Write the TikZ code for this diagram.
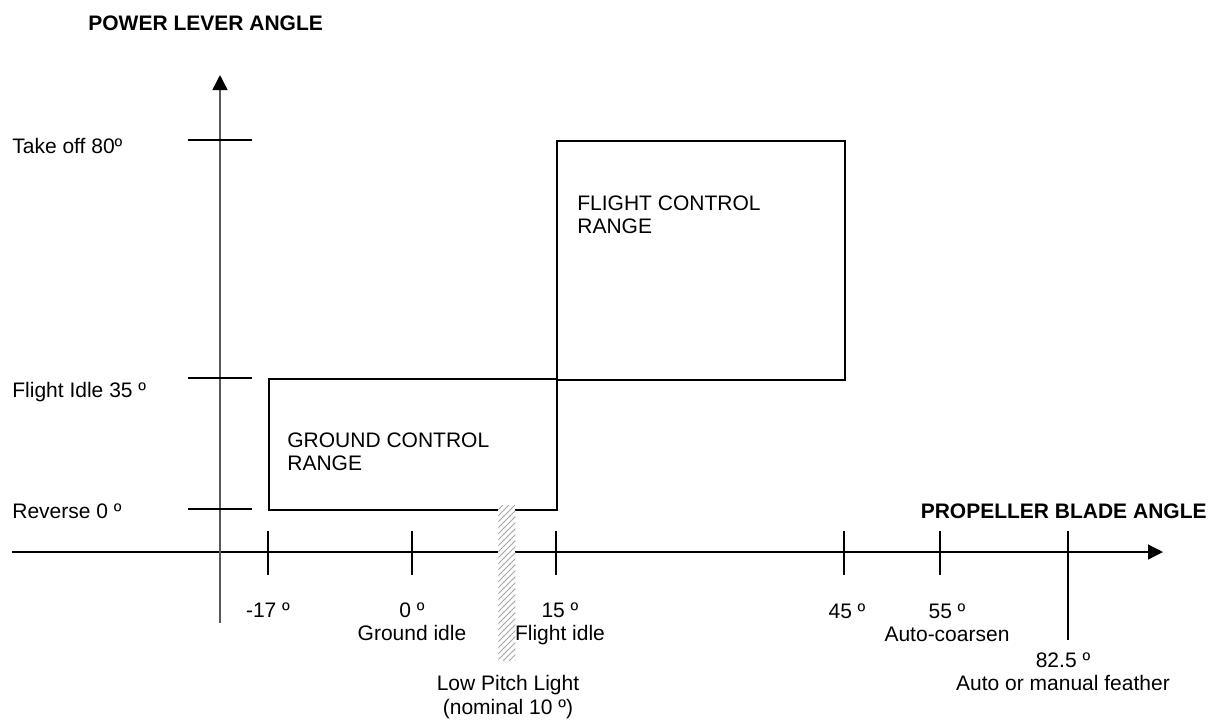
\documentclass[tikz,border=0pt]{standalone}
\usepackage{fontspec}
\setmainfont{Liberation Sans}
\usetikzlibrary{arrows.meta, positioning, patterns}

\begin{document}
\begin{tikzpicture}[
        x=0.5pt, y=-0.5pt,
        >={Triangle[length=7.5pt, width=7.5pt, black]},
        font=\fontsize{10.5}{11.75}\selectfont,
        % Define Styles
        axisline/.style={line width=0.6pt, draw=black},
        levaxis/.style={line width=0.7pt, draw=black!65},
        tick/.style={line width=0.8pt},
        rangebox/.style={rectangle, draw=black, line width=0.8pt, anchor=north west, inner sep=0pt},
        boxtext/.style={anchor=north west, align=left, inner sep=0pt},
        sidelabel/.style={anchor=base west, inner sep=0pt},
        anglelabel/.style={anchor=north, align=center, inner sep=0pt},
        axistitle/.style={inner sep=0pt, font=\fontsize{10.5}{11.75}\selectfont\bfseries},
        lowbar/.style={rectangle, anchor=north west, inner sep=0pt, minimum width=8.5pt, minimum height=77.5pt, fill=white, postaction={pattern=north east lines, pattern color=black!35}}
    ]

    \useasboundingbox (0,0) rectangle (1217,720);

    % --- AXES ---
    \coordinate (xstart) at (12,552);
    \coordinate (xend) at (1163,552);
    \coordinate (ybot) at (220,623);
    \coordinate (ytop) at (220,75);

    \draw[axisline, ->] (xstart) -- (xend);
    \draw[levaxis, ->] (ybot) -- (ytop);

    \node[axistitle, anchor=base west] (plaTitle) at (88,30) {POWER LEVER ANGLE};
    \node[axistitle, anchor=base east] (pbaTitle) at (1207,518) {PROPELLER BLADE ANGLE};

    % --- POWER LEVER TICKS ---
    \draw[tick] (188,140) -- (252,140);
    \draw[tick] (188,378) -- (252,378);
    \draw[tick] (188,509) -- (252,509);

    \node[sidelabel] (takeoff) at (12,153) {Take off 80º};
    \node[sidelabel] (fidle) at (12,397) {Flight Idle 35 º};
    \node[sidelabel] (reverse) at (12,518) {Reverse 0 º};

    % --- RANGE BOXES ---
    \node[rangebox, minimum width=144pt, minimum height=65.5pt] (ground) at (268,378) {};
    \node[rangebox, minimum width=144pt, minimum height=119.5pt] (flight) at (556,140) {};

    \node[boxtext] (groundText) at (287,432) {GROUND CONTROL\\RANGE};
    \node[boxtext] (flightText) at (577,195) {FLIGHT CONTROL\\RANGE};

    % --- BLADE ANGLE TICKS ---
    \foreach \x/\lo in {268/575, 412/575, 556/575, 844/575, 940/575, 1068/640}
        \draw[tick] (\x,531) -- (\x,\lo);

    % Low pitch light band
    \node[lowbar] (lowPitch) at (498,505) {};

    \node[anglelabel] (bm17) at (268,602) {-17 º};
    \node[anglelabel] (b0) at (412,602) {0 º\\Ground idle};
    \node[anglelabel] (b15) at (560,602) {15 º\\Flight idle};
    \node[anglelabel] (b45) at (847,603) {45 º};
    \node[anglelabel] (b55) at (947,603) {55 º\\Auto-coarsen};
    \node[anglelabel] (b82) at (1063,652) {82.5 º\\Auto or manual feather};
    \node[anglelabel] (lplText) at (508,675) {Low Pitch Light\\(nominal 10 º)};

    \end{tikzpicture}
\end{document}
